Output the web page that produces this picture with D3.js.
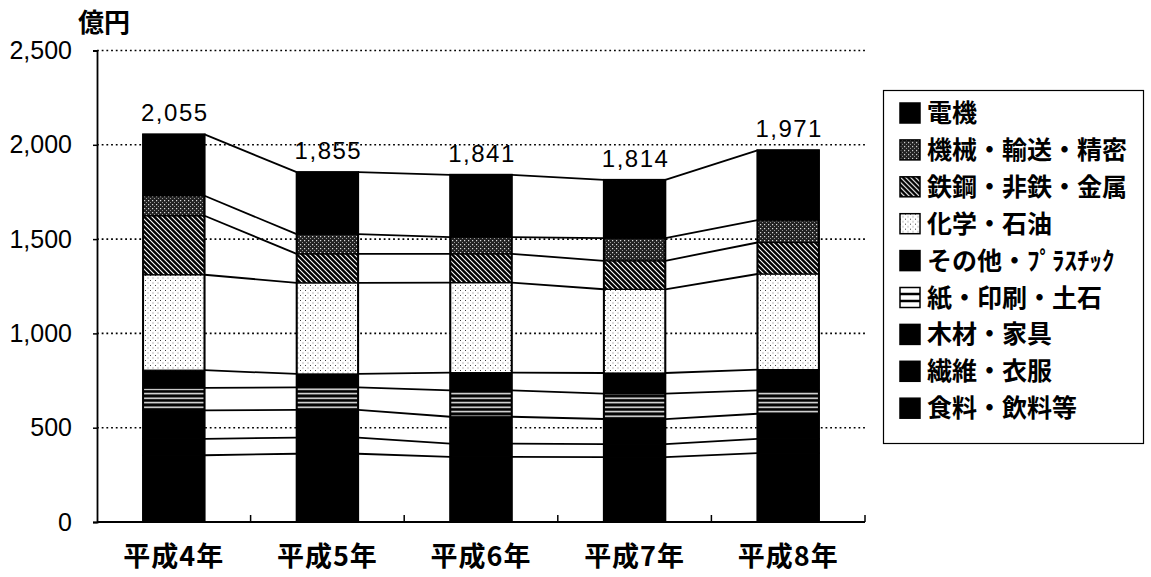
<!DOCTYPE html>
<html lang="ja">
<head>
<meta charset="UTF-8">
<title>業種別 推移</title>
<style>
  html, body { margin: 0; padding: 0; background: #fff; }
  svg { display: block; }
  .jp { font-family: "Noto Sans CJK JP", "Noto Sans", sans-serif; font-weight: 700; }
  .num { font-family: "Liberation Sans", Arial, sans-serif; }
</style>
</head>
<body>
<script src="https://d3js.org/d3.v7.min.js"></script>
<script>
// data (億円), bottom to top
const years = ['平成4年', '平成5年', '平成6年', '平成7年', '平成8年'];
const food = [354, 362, 345, 344, 365];
const textile = [87, 85, 71, 69, 76];
const wood = [151, 147, 142, 133, 133];
const paper = [119, 120, 140, 135, 124];
const otherPlastic = [94, 71, 94, 109, 110];
const chemical = [506, 483, 477, 444, 507];
const steel = [313, 154, 153, 151, 167];
const machinery = [106, 104, 89, 120, 119];
const electric = [325, 329, 330, 309, 370];
const totals = [2055, 1855, 1841, 1814, 1971];
const yTicks = [0, 500, 1000, 1500, 2000, 2500];

const seriesKeys = ['food', 'textile', 'wood', 'paper', 'other', 'chem', 'steel', 'mach', 'elec'];
const seriesNames = {
    food: '食料・飲料等', textile: '繊維・衣服', wood: '木材・家具', paper: '紙・印刷・土石',
    other: 'その他・ﾌﾟﾗｽﾁｯｸ', chem: '化学・石油', steel: '鉄鋼・非鉄・金属',
    mach: '機械・輸送・精密', elec: '電機'
};
const fills = {
    food: '#000', textile: '#000', wood: '#000', paper: 'url(#pPaper)', other: '#000',
    chem: 'url(#pChem)', steel: 'url(#pSteel)', mach: 'url(#pMach)', elec: '#000'
};

const table = years.map((y, i) => ({
    year: y, food: food[i], textile: textile[i], wood: wood[i], paper: paper[i],
    other: otherPlastic[i], chem: chemical[i], steel: steel[i], mach: machinery[i], elec: electric[i]
}));

const W = 1151, H = 577;
const svg = d3.select('body').append('svg').attr('width', W).attr('height', H);

// patterns
const defs = svg.append('defs');
const pMach = defs.append('pattern').attr('id', 'pMach').attr('patternUnits', 'userSpaceOnUse')
    .attr('width', 4).attr('height', 4);
pMach.append('rect').attr('width', 4).attr('height', 4).attr('fill', '#222');
pMach.append('rect').attr('x', 0).attr('y', 0).attr('width', 1.2).attr('height', 1.2).attr('fill', '#ddd');
pMach.append('rect').attr('x', 2).attr('y', 2).attr('width', 1).attr('height', 1).attr('fill', '#999');

const pSteel = defs.append('pattern').attr('id', 'pSteel').attr('patternUnits', 'userSpaceOnUse')
    .attr('width', 5).attr('height', 5);
pSteel.append('rect').attr('width', 5).attr('height', 5).attr('fill', '#000');
pSteel.append('path').attr('d', 'M-1,-1 L6,6 M-1,4 L1,6 M4,-1 L6,1')
    .attr('stroke', '#fff').attr('stroke-width', 1.1);

const pChem = defs.append('pattern').attr('id', 'pChem').attr('patternUnits', 'userSpaceOnUse')
    .attr('width', 5).attr('height', 5);
pChem.append('rect').attr('width', 5).attr('height', 5).attr('fill', '#fff');
pChem.append('rect').attr('x', 0).attr('y', 0).attr('width', 1).attr('height', 1).attr('fill', '#444');
pChem.append('rect').attr('x', 2.5).attr('y', 2.5).attr('width', 1).attr('height', 1).attr('fill', '#777');

const pPaper = defs.append('pattern').attr('id', 'pPaper').attr('patternUnits', 'userSpaceOnUse')
    .attr('width', 6).attr('height', 4.5);
pPaper.append('rect').attr('width', 6).attr('height', 4.5).attr('fill', '#000');
pPaper.append('rect').attr('y', 1.5).attr('width', 6).attr('height', 1.4).attr('fill', '#fff');

// scales
const x = d3.scaleBand().domain(years).range([97, 865]).paddingInner(0.6).paddingOuter(0.3);
const y = d3.scaleLinear().domain([0, 2500]).range([522, 50.5]);

// gridlines
svg.append('g').selectAll('line').data(yTicks.filter(t => t > 0)).join('line')
    .attr('x1', 97).attr('x2', 865)
    .attr('y1', d => y(d)).attr('y2', d => y(d))
    .attr('stroke', '#000').attr('stroke-width', 1.6).attr('stroke-dasharray', '1.8,2.9');

// y axis
const yAxis = svg.append('g').attr('transform', 'translate(97,0)')
    .call(d3.axisLeft(y).tickValues(yTicks).tickFormat(d3.format(',')).tickSize(4).tickPadding(21));
yAxis.select('.domain').attr('stroke', '#000').attr('stroke-width', 1.8);
yAxis.selectAll('.tick line').attr('stroke', '#000').attr('stroke-width', 1.5);
yAxis.selectAll('.tick text').attr('class', 'num').attr('font-size', 25).attr('fill', '#000');

// x axis baseline and category ticks
svg.append('line').attr('x1', 97).attr('x2', 865).attr('y1', y(0)).attr('y2', y(0))
    .attr('stroke', '#000').attr('stroke-width', 2);
const step = x.step();
const bounds = years.map(d => x(d) + x.bandwidth() / 2 + step / 2);
svg.append('g').selectAll('line').data(bounds).join('line')
    .attr('x1', d => d).attr('x2', d => d).attr('y1', y(0)).attr('y2', y(0) - 7)
    .attr('stroke', '#000').attr('stroke-width', 1.5);

svg.append('g').selectAll('text').data(years).join('text')
    .attr('class', 'jp')
    .attr('x', d => x(d) + x.bandwidth() / 2)
    .attr('y', 566)
    .attr('text-anchor', 'middle')
    .attr('font-size', 27)
    .attr('letter-spacing', 1)
    .text(d => d);

// unit label
svg.append('text').attr('class', 'jp').attr('x', 78).attr('y', 32)
    .attr('font-size', 26).text('億円');

// stacked bars
const stack = d3.stack().keys(seriesKeys)(table);

// connector lines between neighbouring bars at each segment top
const links = [];
stack.forEach(s => {
    for (let i = 0; i < years.length - 1; i++) {
        links.push({ a: s[i], b: s[i + 1], i: i });
    }
});
svg.append('g').selectAll('line').data(links).join('line')
    .attr('x1', d => x(years[d.i]) + x.bandwidth())
    .attr('x2', d => x(years[d.i + 1]))
    .attr('y1', d => y(d.a[1]))
    .attr('y2', d => y(d.b[1]))
    .attr('stroke', '#000').attr('stroke-width', 1.8);

const layers = svg.append('g').selectAll('g').data(stack).join('g')
    .attr('fill', d => fills[d.key]);
layers.selectAll('rect').data(d => d).join('rect')
    .attr('x', d => x(d.data.year))
    .attr('width', x.bandwidth())
    .attr('y', d => y(d[1]))
    .attr('height', d => y(d[0]) - y(d[1]))
    .attr('stroke', '#000').attr('stroke-width', 1.2);

// outline of each bar
svg.append('g').selectAll('rect').data(years).join('rect')
    .attr('x', d => x(d))
    .attr('width', x.bandwidth())
    .attr('y', (d, i) => y(totals[i]))
    .attr('height', (d, i) => y(0) - y(totals[i]))
    .attr('fill', 'none').attr('stroke', '#000').attr('stroke-width', 2);

// totals
svg.append('g').selectAll('text').data(years).join('text')
    .attr('class', 'num')
    .attr('x', d => x(d) + x.bandwidth() / 2 + 1)
    .attr('y', (d, i) => y(totals[i]) - 13)
    .attr('text-anchor', 'middle')
    .attr('font-size', 24)
    .attr('letter-spacing', 1.5)
    .text((d, i) => d3.format(',')(totals[i]));

// legend (top entry = top of stack)
const legend = svg.append('g');
legend.append('rect').attr('x', 883.5).attr('y', 90.5).attr('width', 260).attr('height', 353)
    .attr('fill', '#fff').attr('stroke', '#000').attr('stroke-width', 1.2);
const legendKeys = seriesKeys.slice().reverse();
const li = legend.selectAll('g.item').data(legendKeys).join('g')
    .attr('class', 'item')
    .attr('transform', (d, i) => `translate(900, ${113 + i * 36.9})`);
li.append('rect').attr('x', 0).attr('y', -10).attr('width', 20).attr('height', 20)
    .attr('fill', d => d === 'paper' ? '#fff' : fills[d])
    .attr('stroke', '#000').attr('stroke-width', 1.5);
li.filter(d => d === 'paper').selectAll('line').data([-3.5, 3.5]).join('line')
    .attr('x1', 0).attr('x2', 20).attr('y1', v => v).attr('y2', v => v)
    .attr('stroke', '#000').attr('stroke-width', 2.5);
li.append('text').attr('class', 'jp').attr('x', 27).attr('y', 0).attr('dy', '0.36em')
    .attr('font-size', 25).text(d => seriesNames[d]);
</script>
</body>
</html>
